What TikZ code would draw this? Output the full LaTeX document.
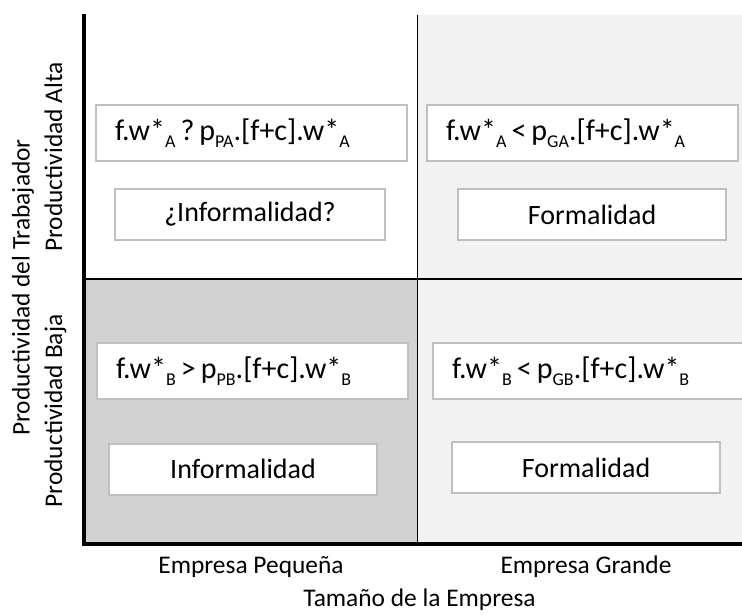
\documentclass[tikz,border=0pt]{standalone}
\usepackage{fontspec}
\setmainfont{Carlito}
\definecolor{lightcell}{RGB}{242,242,242}
\definecolor{darkcell}{RGB}{210,210,210}
\definecolor{boxline}{RGB}{191,191,191}
\newcommand\boxfont{\fontsize{28}{32}\selectfont}
\newcommand\formfont{\fontsize{30}{34}\selectfont}
\newcommand\axfont{\fontsize{25.4}{30}\selectfont}
\newcommand\lowsub[1]{\raisebox{-7pt}{\fontsize{18}{18}\selectfont #1}}
\newcommand\gapsp{\hspace{5pt}}
\begin{document}
\begin{tikzpicture}[x=1pt,y=-1pt,
  cellbox/.style={draw=boxline, line width=2pt, fill=white, rectangle, inner ysep=0pt},
  formula/.style={cellbox, minimum height=56pt, inner xsep=19pt, text width=273pt, align=left, font=\formfont},
  verdict/.style={cellbox, minimum height=51pt, minimum width=268pt, inner xsep=0pt, font=\boxfont},
  axislabel/.style={font=\axfont, inner sep=0pt, anchor=base},
  thinrule/.style={line width=1.3pt},
  thickaxis/.style={line width=4.6pt, line join=miter}]
\useasboundingbox (0,0) rectangle (742,615);
% quadrant shading
\fill[darkcell] (84,279) rectangle (417.5,544);
\fill[lightcell] (417.5,15) rectangle (742,544);
% dividers
\coordinate (midtop) at (417.5,15);
\coordinate (midbot) at (417.5,544);
\coordinate (midleft) at (84,279);
\coordinate (midright) at (744,279);
\draw[thinrule] (midtop) -- (midbot);
\draw[thinrule] (midleft) -- (midright);
% axes
\coordinate (ytop) at (84,14);
\coordinate (origin) at (84,544);
\coordinate (xend) at (744,544);
\draw[thickaxis] (ytop) -- (origin) -- (xend);
% formula boxes
\node[formula] (fTL) at (251.5,133) {f.w*\lowsub{A}\gapsp?\gapsp p\lowsub{PA}.[f+c].w*\lowsub{A}};
\node[formula] (fTR) at (582.5,133) {f.w*\lowsub{A}\gapsp<\gapsp p\lowsub{GA}.[f+c].w*\lowsub{A}};
\node[formula] (fBL) at (252.5,371) {f.w*\lowsub{B}\gapsp>\gapsp p\lowsub{PB}.[f+c].w*\lowsub{B}};
\node[formula] (fBR) at (588.5,371) {f.w*\lowsub{B}\gapsp<\gapsp p\lowsub{GB}.[f+c].w*\lowsub{B}};
% verdict boxes
\node[verdict, minimum width=270pt] (vTL) at (250,214.5) {¿Informalidad?};
\node[verdict] (vTR) at (592,214.5) {Formalidad};
\node[verdict] (vBL) at (243,469) {Informalidad};
\node[verdict] (vBR) at (586,467.5) {Formalidad};
% axis labels
\node[axislabel] (xsmall) at (251,573) {Empresa Pequeña};
\node[axislabel] (xlarge) at (586,573) {Empresa Grande};
\node[axislabel] (xtitle) at (419.5,606) {Tamaño de la Empresa};
\node[axislabel, rotate=90] (yhigh) at (62,157) {Productividad Alta};
\node[axislabel, rotate=90] (ylow) at (62,411) {Productividad Baja};
\node[axislabel, rotate=90] (ytitle) at (29.5,287.5) {Productividad del Trabajador};
\end{tikzpicture}
\end{document}
